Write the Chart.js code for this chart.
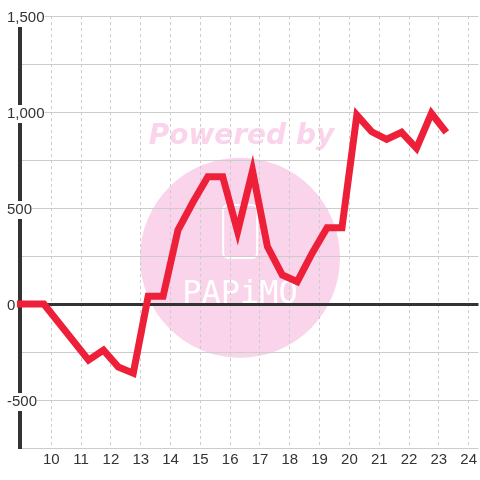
<!DOCTYPE html>
<html>
<head>
<meta charset="utf-8">
<script src="https://cdn.jsdelivr.net/npm/chart.js@4"></script>
<style>
  html, body { margin: 0; padding: 0; background: #fff; }
  #wrap { width: 480px; height: 480px; }
</style>
</head>
<body>
<div id="wrap"><canvas id="graf" width="480" height="480"></canvas></div>
<script>
// tick labels
const xTicks = [10, 11, 12, 13, 14, 15, 16, 17, 18, 19, 20, 21, 22, 23, 24];
const yTicks = [-500, 0, 500, 1000, 1500];

// series (hour of day -> value)
const hours = [8.75, 9.75, 11.25, 11.75, 12.25, 12.75, 13.25, 13.75, 14.25, 14.75,
               15.25, 15.75, 16.25, 16.75, 17.25, 17.75, 18.25, 18.75, 19.25, 19.75,
               20.25, 20.75, 21.25, 21.75, 22.25, 22.75, 23.25];
const values = [0, 0, -292, -240, -328, -360, 40, 40, 385, 530,
                663, 663, 377, 694, 299, 151, 116, 265, 397, 397,
                984, 897, 858, 894, 811, 993, 894];

const FONT = '"Liberation Sans", Arial, sans-serif';

// pink "Powered by" watermark, drawn under the grid
const watermark = {
    id: 'watermark',
    beforeDraw(chart) {
        const ctx = chart.ctx;
        const w = chart.width, h = chart.height;
        ctx.save();
        ctx.fillStyle = '#ffffff';
        ctx.fillRect(0, 0, w, h);

        ctx.fillStyle = '#fad4ea';
        ctx.beginPath();
        ctx.arc(w * 0.5, h * 0.537, 100, 0, Math.PI * 2);
        ctx.fill();

        ctx.font = 'italic bold 28px "DejaVu Sans"';
        ctx.textAlign = 'center';
        ctx.textBaseline = 'alphabetic';
        ctx.fillText('Powered by', w * 0.503, 144);

        // logo
        ctx.strokeStyle = '#ffffff';
        ctx.lineWidth = 2;
        ctx.beginPath();
        ctx.roundRect(w * 0.465, 205, 34, 53, 5);
        ctx.stroke();
        ctx.fillStyle = '#ffffff';
        ctx.font = '32px "DejaVu Sans Mono"';
        ctx.fillText('PAPiMO', w * 0.5, 303);
        ctx.restore();
    }
};

new Chart(document.getElementById('graf'), {
    type: 'line',
    data: {
        datasets: [{
            data: hours.map((x, i) => ({ x: x, y: values[i] })),
            borderColor: '#ee1f39',
            borderWidth: 7,
            borderJoinStyle: 'miter',
            pointRadius: 0,
            tension: 0,
            fill: false,
            clip: { left: 3, top: 0, right: 0, bottom: 0 }
        }]
    },
    options: {
        responsive: false,
        animation: false,
        layout: { padding: { left: 20, top: 16, right: 0, bottom: 8 } },
        plugins: {
            legend: { display: false },
            tooltip: { enabled: false }
        },
        scales: {
            x: {
                type: 'linear',
                min: 8.95,
                max: 24.33,
                afterBuildTicks: (scale) => { scale.ticks = xTicks.map(v => ({ value: v })); },
                grid: { color: '#cccccc', drawTicks: false },
                border: { display: false, dash: [3, 3] },
                ticks: {
                    autoSkip: false,
                    maxRotation: 0,
                    padding: 3,
                    color: '#333333',
                    font: { family: FONT, size: 15 },
                    callback: (v) => String(v)
                }
            },
            y: {
                min: -750,
                max: 1500,
                ticks: {
                    stepSize: 250,
                    mirror: true,
                    padding: -13,
                    labelOffset: 2,
                    color: '#333333',
                    font: { family: FONT, size: 15 },
                    showLabelBackdrop: true,
                    backdropColor: '#ffffff',
                    backdropPadding: 0,
                    callback: (v) => yTicks.includes(v) ? v.toLocaleString('en-US') : ''
                },
                grid: {
                    color: (c) => c.tick && c.tick.value === 0 ? '#333333' : '#cccccc',
                    lineWidth: (c) => c.tick && c.tick.value === 0 ? 3 : 1,
                    drawTicks: true,
                    tickLength: 26,
                    tickColor: 'rgba(0,0,0,0)'
                },
                border: { display: true, color: '#333333', width: 4 }
            }
        }
    },
    plugins: [watermark]
});
</script>
</body>
</html>
